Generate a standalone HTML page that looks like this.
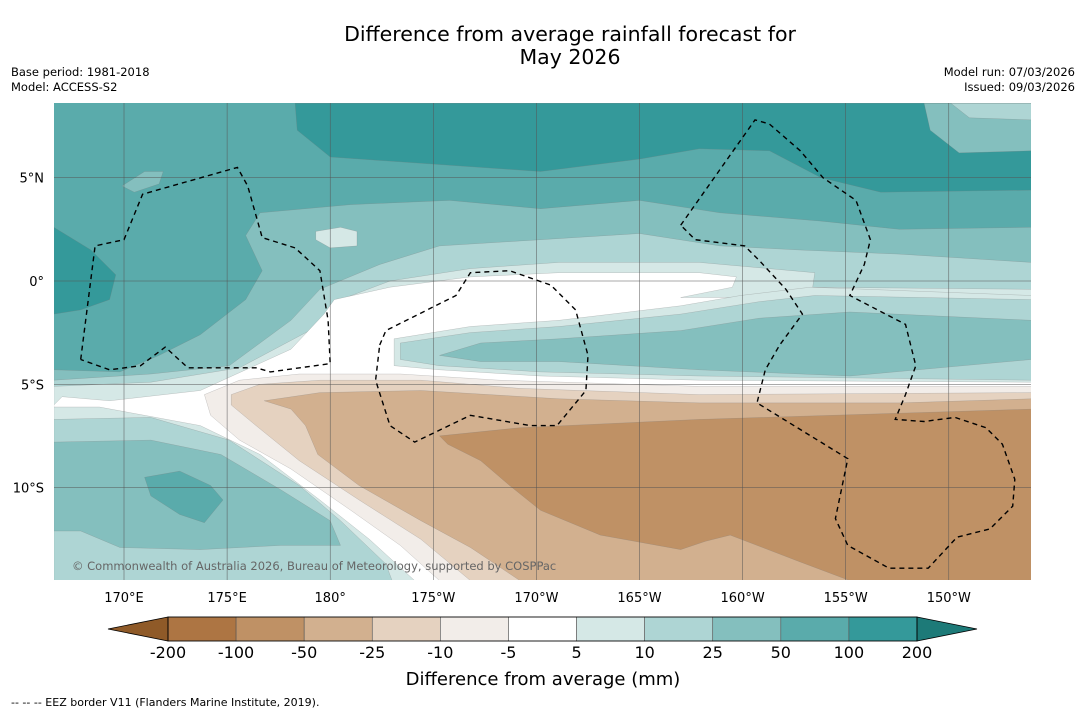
<!DOCTYPE html>
<html><head><meta charset="utf-8"><style>
html,body{margin:0;padding:0;background:#fff;}
svg{display:block;font-family:"DejaVu Sans","Liberation Sans",sans-serif;}
</style></head><body>
<svg id="chart" width="1085" height="713" viewBox="0 0 1085 713">
<text x="570" y="41" text-anchor="middle" font-size="20.5">Difference from average rainfall forecast for</text>
<text x="570" y="64" text-anchor="middle" font-size="20.5">May 2026</text>
<text x="11" y="76" font-size="11.5">Base period: 1981-2018</text>
<text x="11" y="91" font-size="11.5">Model: ACCESS-S2</text>
<text x="1075" y="76" font-size="11.5" text-anchor="end">Model run: 07/03/2026</text>
<text x="1075" y="91" font-size="11.5" text-anchor="end">Issued: 09/03/2026</text>
<defs><clipPath id="mapclip"><rect x="54" y="103" width="977" height="477"/></clipPath></defs>
<g id="map" clip-path="url(#mapclip)"></g>
<g id="axes"></g>
<g id="cbar"></g>
<text x="543" y="685" text-anchor="middle" font-size="18">Difference from average (mm)</text>
<text x="11" y="706" font-size="11">--  --  -- EEZ border V11 (Flanders Marine Institute, 2019).</text>
</svg>
<script>
const NS="http://www.w3.org/2000/svg";
const lonMin=166.6, lonMax=214.0, latMin=-14.5, latMax=8.6;
const lonTicks=[170,175,180,185,190,195,200,205,210];
const lonTickLabels=["170°E","175°E","180°","175°W","170°W","165°W","160°W","155°W","150°W"];
const latTicks=[5,0,-5,-10];
const latTickLabels=["5°N","0°","5°S","10°S"];
const cbarBounds=["-200","-100","-50","-25","-10","-5","5","10","25","50","100","200"];
const cbarColors=["#ad7543","#bf9165","#d2b08f","#e5d2c0","#f2ede9","#ffffff","#d5e8e6","#aed5d4","#84bfbe","#5aabab","#34999a"];
const C={t100:"#34999a",t50:"#5aabab",t25:"#84bfbe",t10:"#aed5d4",t5:"#d5e8e6",w:"#ffffff",b5:"#f2ede9",b10:"#e5d2c0",b25:"#d2b08f",b50:"#bf9165"};
const regDarkTop=[[178.3,8.6],[214,8.6],[214,4.4],[206.7,4.3],[203.8,5.0],[201.3,6.3],[197.9,6.4],[195.0,5.9],[190.2,5.3],[185.8,5.6],[180.0,6.0],[178.4,7.3]];
const regTopRight25=[[208.8,8.6],[214,8.6],[214,6.3],[210.5,6.2],[209.1,7.3]];
const regTopRight10=[[210.1,8.6],[214,8.6],[214,7.8],[211,7.9]];
const regLeftDark=[[166.6,2.6],[168.4,1.5],[169.6,0.3],[169.3,-0.9],[167.9,-1.4],[166.6,-1.6]];
const regLeftBlob=[[169.9,4.6],[171.0,5.3],[171.9,5.3],[171.7,4.7],[170.5,4.3]];
const reg25=[[166.6,-4.3],[169.8,-4.4],[171.7,-3.6],[173.7,-2.6],[175.9,-0.9],[176.7,0.5],[175.9,2.2],[176.6,3.3],[181.0,3.7],[185.8,3.9],[190.2,3.5],[195.0,3.9],[198.9,3.3],[203.8,2.9],[207.6,2.5],[214,2.6],[214,-14.5],[166.6,-14.5]];
const regSmallBlob=[[179.3,2.4],[180.5,2.6],[181.3,2.4],[181.3,1.7],[180.0,1.6],[179.3,2.0]];
const reg10=[[166.6,-4.8],[171.3,-4.5],[175.1,-4.1],[178.1,-1.9],[179.5,-0.4],[182.4,0.8],[185.3,1.7],[190.2,2.0],[195.0,2.3],[198.9,1.7],[202.8,1.5],[207.6,1.3],[214,0.9],[214,-14.5],[166.6,-14.5]];
const reg5=[[166.6,-5.1],[171.3,-4.9],[175.6,-4.2],[179.0,-2.4],[180.5,-0.9],[182.9,0],[186.8,0.6],[191.1,0.9],[197.9,0.9],[203.5,0.4],[203.4,-0.3],[214,-0.4],[214,-14.5],[166.6,-14.5]];
const regWhite=[[167.0,-5.6],[169.3,-5.8],[173.7,-5.3],[178.1,-3.3],[179.7,-1.6],[180.2,-0.9],[182.9,-0.3],[186.8,0.2],[191.1,0.4],[197.9,0.4],[199.7,0.2],[199.5,-0.3],[197.0,-0.8],[214,-0.8],[214,-14.5],[166.6,-14.5],[166.6,-6.0]];
const regR5=[[183.1,-2.8],[186.8,-2.2],[191.1,-1.9],[197.0,-1.2],[199.9,-0.7],[203.3,-0.3],[214,-0.7],[214,-4.9],[197.9,-4.8],[190.2,-4.6],[185.3,-4.3],[183.1,-4.1]];
const regR10=[[183.4,-3.0],[186.8,-2.5],[191.1,-2.2],[197.0,-1.6],[200.8,-1.0],[203.5,-0.7],[214,-0.9],[214,-4.8],[197.9,-4.6],[190.2,-4.4],[185.3,-4.1],[183.4,-3.8]];
const regR25=[[185.3,-3.6],[187.3,-3.0],[191.1,-2.8],[197.0,-2.4],[200.8,-1.8],[205.2,-1.5],[214,-1.9],[214,-3.8],[205.2,-4.6],[197.9,-4.3],[191.1,-3.9],[187.3,-3.9]];
const regB5=[[173.9,-5.5],[175.6,-4.8],[178.5,-4.5],[183.4,-4.5],[188.2,-4.8],[197.9,-5.1],[214,-5.1],[214,-14.5],[185.3,-14.5],[183.4,-12.8],[181.0,-11.1],[178.1,-9.1],[175.6,-7.7],[174.2,-6.5]];
const regB10=[[175.2,-5.5],[176.6,-5.0],[179.5,-4.8],[184.4,-4.8],[189.2,-5.2],[197.9,-5.5],[214,-5.4],[214,-14.5],[186.8,-14.5],[184.4,-12.5],[181.4,-10.6],[178.5,-8.7],[176.4,-7.0],[175.2,-6.0]];
const regB25=[[176.8,-5.8],[179.5,-5.4],[184.4,-5.3],[191.1,-5.7],[197.9,-5.9],[207.6,-5.9],[214,-5.7],[214,-14.5],[189.2,-14.5],[186.8,-12.9],[184.4,-11.6],[181.4,-9.9],[179.4,-8.4],[178.8,-7.0],[178.1,-6.2]];
const regB50=[[185.3,-7.5],[189.2,-7.1],[197.9,-6.7],[207.6,-6.4],[214,-6.2],[214,-14.5],[205.2,-14.5],[202.8,-13.6],[199.4,-12.3],[198.2,-12.6],[197.0,-13.0],[193.1,-12.3],[190.2,-11.1],[188.7,-9.9],[187.3,-8.7],[185.7,-7.9]];
const regLB5=[[166.6,-6.1],[168.8,-6.1],[173.7,-7.0],[176.6,-8.4],[179.5,-10.6],[181.9,-12.5],[184.1,-14.5],[166.6,-14.5]];
const regLB10=[[166.6,-6.7],[171.3,-6.6],[175.1,-7.7],[178.5,-9.9],[180.5,-11.6],[182.7,-13.7],[183.0,-14.5],[166.6,-14.5]];
const regLB25=[[166.6,-7.8],[171.3,-7.7],[174.7,-8.4],[177.6,-10.1],[180.0,-11.6],[180.5,-12.8],[177.6,-12.8],[173.7,-13.0],[169.8,-12.9],[167.9,-12.1],[166.6,-12.1]];
const regLB50=[[171.0,-9.5],[172.7,-9.2],[174.2,-9.9],[174.8,-10.6],[173.9,-11.7],[172.7,-11.3],[171.3,-10.4]];
const eezWest=[[167.9,-3.8],[168.6,1.7],[170.0,2.0],[170.9,4.2],[175.5,5.5],[176.0,4.6],[176.7,2.1],[178.3,1.6],[179.5,0.5],[179.9,-1.9],[180.0,-4.0],[177.1,-4.4],[176.4,-4.2],[173.1,-4.2],[172.0,-3.2],[170.8,-4.1],[169.3,-4.3],[167.9,-3.8]];
const eezMid=[[182.4,-3.1],[182.7,-2.4],[186.1,-0.7],[186.8,0.4],[188.7,0.5],[190.7,-0.2],[191.9,-1.4],[192.5,-3.6],[192.4,-5.3],[191.0,-7.0],[189.7,-7.0],[186.8,-6.5],[184.1,-7.8],[182.9,-7.0],[182.2,-4.8],[182.4,-3.1]];
const eezEast=[[197.0,2.7],[200.6,7.8],[201.3,7.6],[202.8,6.3],[203.9,5.0],[205.5,3.9],[206.2,2.0],[205.9,0.8],[205.2,-0.7],[207.9,-2.1],[208.4,-4.1],[207.9,-5.5],[207.4,-6.7],[208.8,-6.8],[210.3,-6.6],[211.8,-7.1],[212.6,-7.9],[213.2,-9.6],[213.1,-10.9],[212.0,-12.0],[210.4,-12.4],[209.0,-13.9],[207.1,-13.9],[205.1,-12.8],[204.5,-11.5],[205.1,-8.6],[200.7,-5.9],[201.1,-4.3],[201.8,-3.1],[202.9,-1.6],[202.1,-0.4],[200.8,1.0],[200.1,1.7],[197.7,2.0],[197.0,2.7]];

const X0=54,X1=1031,Y0=103,Y1=580;
const xs=lon=>124+(lon-170)*20.62;
const ys=lat=>281-lat*20.66;
const pts=a=>a.map(p=>xs(p[0]).toFixed(1)+","+ys(p[1]).toFixed(1)).join(" ");
const map=document.getElementById("map");
function poly(a,fill,name){
  const e=document.createElementNS(NS,"polygon");
  e.setAttribute("points",pts(a));e.setAttribute("fill",fill);
  e.setAttribute("stroke","#777");e.setAttribute("stroke-width","0.4");e.setAttribute("stroke-opacity","0.5");
  
  
  map.appendChild(e);
}
const bg=document.createElementNS(NS,"rect");
bg.setAttribute("x",X0);bg.setAttribute("y",Y0);bg.setAttribute("width",X1-X0);bg.setAttribute("height",Y1-Y0);bg.setAttribute("fill",C.t50);


map.appendChild(bg);
poly(regDarkTop,C.t100,"contour-100-200-top");
poly(regTopRight25,C.t25,"contour-25-50-topright");
poly(regTopRight10,C.t10,"contour-10-25-topright");
poly(regLeftDark,C.t100,"contour-100-200-left");
poly(regLeftBlob,C.t25,"contour-25-50-left-blob");
poly(reg25,C.t25,"contour-25-50");
poly(regSmallBlob,C.t5,"contour-5-10-blob");
poly(reg10,C.t10,"contour-10-25");
poly(reg5,C.t5,"contour-5-10");
poly(regWhite,C.w,"contour-neutral");
poly(regR5,C.t5,"contour-5-10-east");
poly(regR10,C.t10,"contour-10-25-east");
poly(regR25,C.t25,"contour-25-50-east");
poly(regB5,C.b5,"contour-minus5-minus10");
poly(regB10,C.b10,"contour-minus10-minus25");
poly(regB25,C.b25,"contour-minus25-minus50");
poly(regB50,C.b50,"contour-minus50-minus100");
poly(regLB5,C.t5,"contour-5-10-southwest");
poly(regLB10,C.t10,"contour-10-25-southwest");
poly(regLB25,C.t25,"contour-25-50-southwest");
poly(regLB50,C.t50,"contour-50-100-southwest");
lonTicks.forEach(l=>{const e=document.createElementNS(NS,"line");e.setAttribute("x1",xs(l));e.setAttribute("x2",xs(l));e.setAttribute("y1",Y0);e.setAttribute("y2",Y1);e.setAttribute("stroke","#555");e.setAttribute("stroke-width","0.5");


map.appendChild(e);});
latTicks.forEach(l=>{const e=document.createElementNS(NS,"line");e.setAttribute("y1",ys(l));e.setAttribute("y2",ys(l));e.setAttribute("x1",X0);e.setAttribute("x2",X1);e.setAttribute("stroke","#555");e.setAttribute("stroke-width","0.5");


map.appendChild(e);});
[eezWest,eezMid,eezEast].forEach((a,i)=>{const e=document.createElementNS(NS,"polyline");e.setAttribute("points",pts(a));e.setAttribute("fill","none");e.setAttribute("stroke","#000");e.setAttribute("stroke-width","1.4");e.setAttribute("stroke-dasharray","5,4");


map.appendChild(e);});
const cp=document.createElementNS(NS,"text");cp.setAttribute("x",72);cp.setAttribute("y",570);cp.setAttribute("font-size","11.5");cp.setAttribute("fill","#666");cp.textContent="© Commonwealth of Australia 2026, Bureau of Meteorology, supported by COSPPac";


map.appendChild(cp);
const ax=document.getElementById("axes");
lonTicks.forEach((l,i)=>{const t=document.createElementNS(NS,"text");t.setAttribute("x",xs(l));t.setAttribute("y",602);t.setAttribute("text-anchor","middle");t.setAttribute("font-size","13");t.textContent=lonTickLabels[i];


ax.appendChild(t);});
latTicks.forEach((l,i)=>{const t=document.createElementNS(NS,"text");t.setAttribute("x",44);t.setAttribute("y",ys(l)+5);t.setAttribute("text-anchor","end");t.setAttribute("font-size","13");t.textContent=latTickLabels[i];


ax.appendChild(t);});
const cb=document.getElementById("cbar");
const cbX0=168,cbX1=917,cbY=617,cbH=24,n=cbarColors.length,segW=(cbX1-cbX0)/n;
cbarColors.forEach((c,i)=>{const r=document.createElementNS(NS,"rect");r.setAttribute("x",cbX0+i*segW);r.setAttribute("y",cbY);r.setAttribute("width",segW);r.setAttribute("height",cbH);r.setAttribute("fill",c);r.setAttribute("stroke","#555");r.setAttribute("stroke-width","0.6");


cb.appendChild(r);});
const tl=document.createElementNS(NS,"polygon");tl.setAttribute("points",`${cbX0},${cbY} 108,${cbY+cbH/2} ${cbX0},${cbY+cbH}`);tl.setAttribute("fill","#8f5a28");tl.setAttribute("stroke","#000");tl.setAttribute("stroke-width","0.8");


cb.appendChild(tl);
const tr=document.createElementNS(NS,"polygon");tr.setAttribute("points",`${cbX1},${cbY} 977,${cbY+cbH/2} ${cbX1},${cbY+cbH}`);tr.setAttribute("fill","#1d7a78");tr.setAttribute("stroke","#000");tr.setAttribute("stroke-width","0.8");


cb.appendChild(tr);
const fr=document.createElementNS(NS,"rect");fr.setAttribute("x",cbX0);fr.setAttribute("y",cbY);fr.setAttribute("width",cbX1-cbX0);fr.setAttribute("height",cbH);fr.setAttribute("fill","none");fr.setAttribute("stroke","#000");fr.setAttribute("stroke-width","0.8");


cb.appendChild(fr);
cbarBounds.forEach((b,i)=>{const t=document.createElementNS(NS,"text");t.setAttribute("x",cbX0+i*segW);t.setAttribute("y",658);t.setAttribute("text-anchor","middle");t.setAttribute("font-size","16");t.textContent=b;


cb.appendChild(t);});
</script>
</body></html>
